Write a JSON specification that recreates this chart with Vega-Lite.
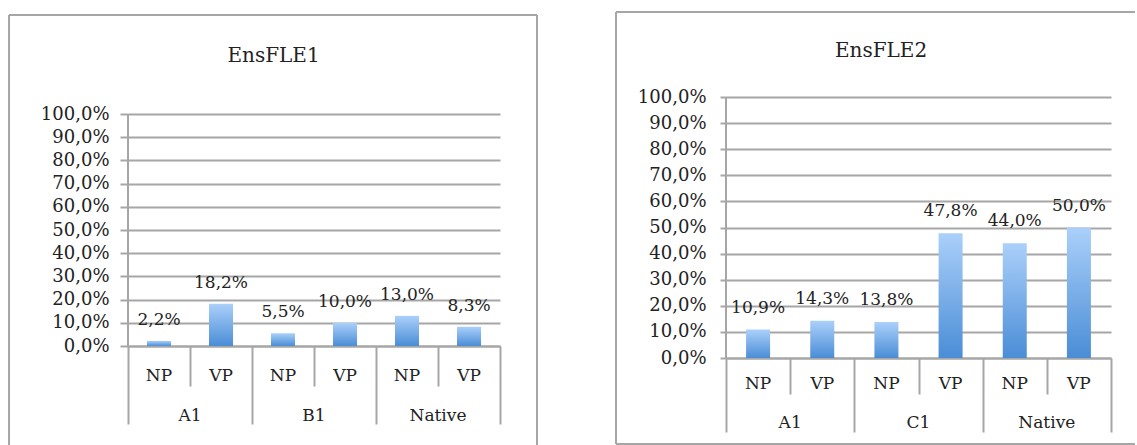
{
  "$schema": "https://vega.github.io/schema/vega-lite/v6.json",
  "padding": {"left": 8, "top": 10, "right": 0, "bottom": 0},
  "background": "white",
  "spacing": 76,
  "config": {
    "view": {"stroke": null},
    "font": "DejaVu Serif",
    "locale": {"number": {"decimal": ",", "thousands": " ", "grouping": [3], "currency": ["", " €"]}},
    "axis": {"labelFont": "DejaVu Serif", "labelFontSize": 17, "labelColor": "#222222", "title": null}
  },
  "datasets": {
    "fle1": [
      {"group": "A1", "sub": "NP", "key": "A1 NP", "pct": 0.022},
      {"group": "A1", "sub": "VP", "key": "A1 VP", "pct": 0.182},
      {"group": "B1", "sub": "NP", "key": "B1 NP", "pct": 0.055},
      {"group": "B1", "sub": "VP", "key": "B1 VP", "pct": 0.100},
      {"group": "Native", "sub": "NP", "key": "Native NP", "pct": 0.130},
      {"group": "Native", "sub": "VP", "key": "Native VP", "pct": 0.083}
    ],
    "fle2": [
      {"group": "A1", "sub": "NP", "key": "A1 NP", "pct": 0.109},
      {"group": "A1", "sub": "VP", "key": "A1 VP", "pct": 0.143},
      {"group": "C1", "sub": "NP", "key": "C1 NP", "pct": 0.138},
      {"group": "C1", "sub": "VP", "key": "C1 VP", "pct": 0.478},
      {"group": "Native", "sub": "NP", "key": "Native NP", "pct": 0.440},
      {"group": "Native", "sub": "VP", "key": "Native VP", "pct": 0.500}
    ],
    "one": [{}]
  },
  "hconcat": [
    {
      "width": 372,
      "height": 249,
      "data": {"name": "fle1"},
      "resolve": {"scale": {"x": "independent"}, "axis": {"y": "independent"}},
      "layer": [
        {
          "mark": {"type": "bar", "width": 24, "color": {"gradient": "linear", "x1": 0, "y1": 0, "x2": 0, "y2": 1, "stops": [{"offset": 0, "color": "#abd0fa"}, {"offset": 1, "color": "#4a8dd6"}]}},
          "encoding": {
            "x": {"field": "key", "type": "nominal", "sort": null, "scale": {"type": "band", "paddingInner": 0, "paddingOuter": 0},
              "axis": {"orient": "bottom", "labelExpr": "split(datum.label, ' ')[1]", "ticks": false, "tickSize": 0, "domain": true, "domainColor": "#a6a6a6", "domainWidth": 2, "labelPadding": 21, "labelAngle": 0}},
            "y": {"field": "pct", "type": "quantitative", "scale": {"domain": [0, 1.07328], "nice": false, "zero": true},
              "axis": {"orient": "left", "values": [0, 0.1, 0.2, 0.3, 0.4, 0.5, 0.6, 0.7, 0.8, 0.9, 1], "format": ".1%", "grid": true, "gridColor": "#a6a6a6", "gridWidth": 2, "domain": false, "tickColor": "#a6a6a6", "tickWidth": 2, "labelOverlap": false, "tickSize": 8, "labelPadding": 11, "labelFontSize": 18}}
          }
        },
        {
          "mark": {"type": "text", "dy": -21, "baseline": "middle", "font": "DejaVu Serif", "fontSize": 17, "fontWeight": "normal", "color": "#222222"},
          "encoding": {
            "x": {"field": "key", "type": "nominal", "sort": null, "scale": {"type": "band", "paddingInner": 0, "paddingOuter": 0}, "bandPosition": 0.5, "axis": null},
            "y": {"field": "pct", "type": "quantitative", "axis": null},
            "text": {"field": "pct", "type": "quantitative", "format": ".1%"}
          }
        },
        {
          "mark": {"type": "bar", "opacity": 0},
          "encoding": {
            "x": {"field": "group", "type": "nominal", "sort": null, "scale": {"type": "band", "paddingInner": 0, "paddingOuter": 0},
              "axis": {"orient": "bottom", "ticks": false, "tickSize": 0, "domain": false, "labelPadding": 61, "labelAngle": 0}}
          }
        },
        {
          "data": {"name": "one"},
          "layer": [
            {
              "mark": {"type": "rule", "color": "#a6a6a6", "strokeWidth": 2},
              "encoding": {
                "x": {"datum": -1.919, "type": "quantitative", "scale": {"domain": [0, 6], "nice": false, "zero": false},
                  "axis": {"orient": "bottom", "values": [0, 1, 2, 3, 4, 5, 6], "labels": false, "domain": false, "grid": false, "ticks": true, "tickColor": "#a6a6a6", "tickWidth": 2,
                    "tickSize": {"condition": {"test": "datum.value % 2 === 0", "value": 78}, "value": 40}}},
                "x2": {"datum": 6.597},
                "y": {"datum": 1.427, "type": "quantitative", "axis": null}
              }
            },
            {
              "mark": {"type": "rule", "color": "#a6a6a6", "strokeWidth": 2},
              "encoding": {
                "x": {"datum": -1.919, "type": "quantitative"},
                "y": {"datum": 1.427, "type": "quantitative", "axis": null},
                "y2": {"datum": -0.4267}
              }
            },
            {
              "mark": {"type": "rule", "color": "#a6a6a6", "strokeWidth": 2},
              "encoding": {
                "x": {"datum": 6.597, "type": "quantitative"},
                "y": {"datum": 1.427, "type": "quantitative", "axis": null},
                "y2": {"datum": -0.4267}
              }
            },
            {
              "mark": {"type": "rule", "color": "#a6a6a6", "strokeWidth": 2},
              "encoding": {
                "x": {"datum": 0, "type": "quantitative"},
                "y": {"datum": 1, "type": "quantitative", "axis": null},
                "y2": {"datum": 0}
              }
            },
            {
              "mark": {"type": "text", "font": "DejaVu Serif", "fontSize": 20, "fontWeight": "normal", "color": "#222222", "baseline": "middle", "align": "center"},
              "encoding": {
                "x": {"datum": 2.347, "type": "quantitative"},
                "y": {"datum": 1.25, "type": "quantitative", "axis": null},
                "text": {"value": "EnsFLE1"}
              }
            }
          ]
        }
      ]
    },
    {
      "width": 385,
      "height": 261,
      "data": {"name": "fle2"},
      "resolve": {"scale": {"x": "independent"}, "axis": {"y": "independent"}},
      "layer": [
        {
          "mark": {"type": "bar", "width": 24, "color": {"gradient": "linear", "x1": 0, "y1": 0, "x2": 0, "y2": 1, "stops": [{"offset": 0, "color": "#abd0fa"}, {"offset": 1, "color": "#4a8dd6"}]}},
          "encoding": {
            "x": {"field": "key", "type": "nominal", "sort": null, "scale": {"type": "band", "paddingInner": 0, "paddingOuter": 0},
              "axis": {"orient": "bottom", "labelExpr": "split(datum.label, ' ')[1]", "ticks": false, "tickSize": 0, "domain": true, "domainColor": "#a6a6a6", "domainWidth": 2, "labelPadding": 17.5, "labelAngle": 0}},
            "y": {"field": "pct", "type": "quantitative", "scale": {"domain": [0, 1], "nice": false, "zero": true},
              "axis": {"orient": "left", "values": [0, 0.1, 0.2, 0.3, 0.4, 0.5, 0.6, 0.7, 0.8, 0.9, 1], "format": ".1%", "grid": true, "gridColor": "#a6a6a6", "gridWidth": 2, "domain": false, "tickColor": "#a6a6a6", "tickWidth": 2, "labelOverlap": false, "tickSize": 6, "labelPadding": 14, "labelFontSize": 18}}
          }
        },
        {
          "mark": {"type": "text", "dy": -22, "baseline": "middle", "font": "DejaVu Serif", "fontSize": 17, "fontWeight": "normal", "color": "#222222"},
          "encoding": {
            "x": {"field": "key", "type": "nominal", "sort": null, "scale": {"type": "band", "paddingInner": 0, "paddingOuter": 0}, "bandPosition": 0.5, "axis": null},
            "y": {"field": "pct", "type": "quantitative", "axis": null},
            "text": {"field": "pct", "type": "quantitative", "format": ".1%"}
          }
        },
        {
          "mark": {"type": "bar", "opacity": 0},
          "encoding": {
            "x": {"field": "group", "type": "nominal", "sort": null, "scale": {"type": "band", "paddingInner": 0, "paddingOuter": 0},
              "axis": {"orient": "bottom", "ticks": false, "tickSize": 0, "domain": false, "labelPadding": 56.5, "labelAngle": 0}}
          }
        },
        {
          "data": {"name": "one"},
          "layer": [
            {
              "mark": {"type": "rule", "color": "#a6a6a6", "strokeWidth": 2},
              "encoding": {
                "x": {"datum": -1.714, "type": "quantitative", "scale": {"domain": [0, 6], "nice": false, "zero": false},
                  "axis": {"orient": "bottom", "values": [0, 1, 2, 3, 4, 5, 6], "labels": false, "domain": false, "grid": false, "ticks": true, "tickColor": "#a6a6a6", "tickWidth": 2,
                    "tickSize": {"condition": {"test": "datum.value % 2 === 0", "value": 74}, "value": 36}}},
                "x2": {"datum": 6.374},
                "y": {"datum": 1.3257, "type": "quantitative", "axis": null}
              }
            },
            {
              "mark": {"type": "rule", "color": "#a6a6a6", "strokeWidth": 2},
              "encoding": {
                "x": {"datum": -1.714, "type": "quantitative"},
                "x2": {"datum": 6.374},
                "y": {"datum": -0.3295, "type": "quantitative", "axis": null}
              }
            },
            {
              "mark": {"type": "rule", "color": "#a6a6a6", "strokeWidth": 2},
              "encoding": {
                "x": {"datum": -1.714, "type": "quantitative"},
                "y": {"datum": 1.3257, "type": "quantitative", "axis": null},
                "y2": {"datum": -0.3295}
              }
            },
            {
              "mark": {"type": "rule", "color": "#a6a6a6", "strokeWidth": 2},
              "encoding": {
                "x": {"datum": 0, "type": "quantitative"},
                "y": {"datum": 1, "type": "quantitative", "axis": null},
                "y2": {"datum": 0}
              }
            },
            {
              "mark": {"type": "text", "font": "DejaVu Serif", "fontSize": 20, "fontWeight": "normal", "color": "#222222", "baseline": "middle", "align": "center"},
              "encoding": {
                "x": {"datum": 2.416, "type": "quantitative"},
                "y": {"datum": 1.176, "type": "quantitative", "axis": null},
                "text": {"value": "EnsFLE2"}
              }
            }
          ]
        }
      ]
    }
  ]
}
